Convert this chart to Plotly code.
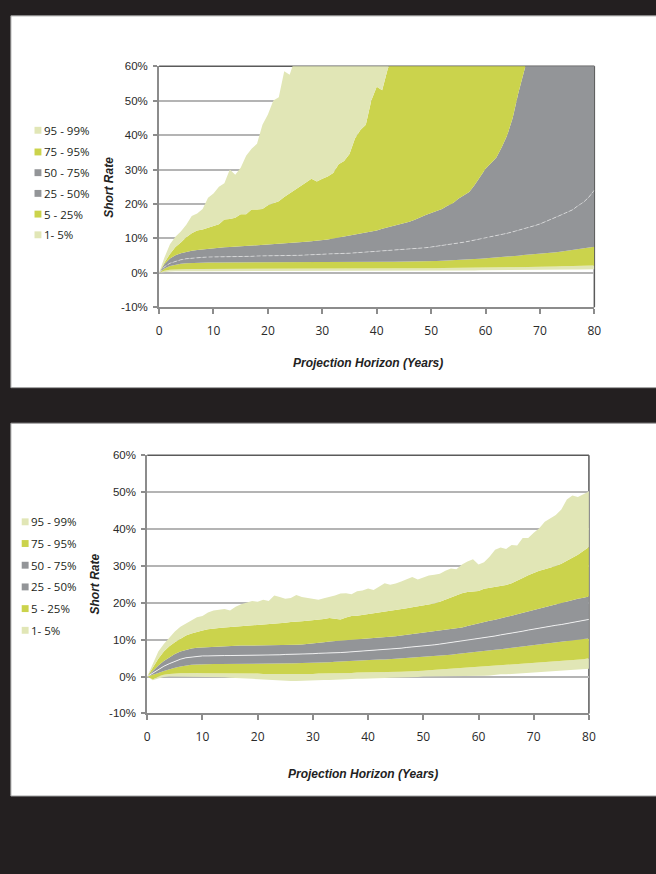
import plotly.graph_objects as go

W, H = 656, 874

years = list(range(81))

# ---------------- Upper chart: short-rate percentiles (%) ----------------
top_p1 = ([0, 0.3, 0.4, 0.45, 0.5, 0.5, 0.5, 0.5, 0.5, 0.5]
          + [0.5] * 30
          + [0.5, 0.5, 0.55, 0.55, 0.55, 0.55, 0.6, 0.6, 0.6, 0.6]
          + [0.6, 0.6, 0.65, 0.65, 0.65, 0.7, 0.7, 0.7, 0.7, 0.75]
          + [0.75, 0.75, 0.8, 0.8, 0.8, 0.8, 0.85, 0.85, 0.85, 0.85]
          + [0.9, 0.9, 0.9, 0.9, 0.95, 0.95, 0.95, 1.0, 1.0, 1.0]
          + [1.05])
top_p5 = ([0, 0.6, 0.9, 1.0, 1.1, 1.1, 1.15, 1.15, 1.15, 1.15]
          + [1.15] * 20
          + [1.15, 1.15, 1.15, 1.15, 1.2, 1.2, 1.2, 1.2, 1.2, 1.2]
          + [1.2, 1.2, 1.25, 1.25, 1.25, 1.3, 1.3, 1.3, 1.3, 1.35]
          + [1.35, 1.35, 1.4, 1.4, 1.4, 1.45, 1.45, 1.45, 1.5, 1.5]
          + [1.5, 1.55, 1.55, 1.6, 1.6, 1.65, 1.65, 1.7, 1.7, 1.75]
          + [1.75, 1.8, 1.8, 1.85, 1.9, 1.9, 1.95, 2.0, 2.0, 2.05]
          + [2.1])
top_p25 = ([0, 1.3, 2.0, 2.4, 2.65, 2.8, 2.9, 2.95, 3.0, 3.0]
           + [3.0, 3.0, 3.05, 3.05, 3.05, 3.05, 3.05, 3.1, 3.1, 3.1]
           + [3.1] * 10
           + [3.1, 3.1, 3.1, 3.1, 3.1, 3.15, 3.15, 3.15, 3.15, 3.15]
           + [3.2, 3.2, 3.2, 3.25, 3.25, 3.3, 3.3, 3.3, 3.35, 3.35]
           + [3.4, 3.45, 3.5, 3.55, 3.6, 3.7, 3.8, 3.9, 4.0, 4.1]
           + [4.2, 4.3, 4.4, 4.5, 4.7, 4.9, 5.0, 5.2, 5.3, 5.5]
           + [5.6, 5.8, 5.9, 6.0, 6.2, 6.4, 6.6, 6.8, 7.0, 7.3]
           + [7.6])
top_p50 = ([0, 1.8, 2.8, 3.4, 3.8, 4.1, 4.3, 4.4, 4.5, 4.6]
           + [4.6, 4.7, 4.7, 4.7, 4.8, 4.8, 4.8, 4.8, 4.9, 4.9]
           + [4.9, 5.0, 5.0, 5.0, 5.1, 5.1, 5.1, 5.2, 5.2, 5.3]
           + [5.4, 5.5, 5.5, 5.6, 5.7, 5.7, 5.8, 5.9, 6.0, 6.1]
           + [6.2, 6.3, 6.4, 6.5, 6.6, 6.7, 6.9, 7.0, 7.2, 7.3]
           + [7.5, 7.7, 7.9, 8.1, 8.3, 8.6, 8.9, 9.2, 9.5, 9.8]
           + [10.1, 10.4, 10.8, 11.1, 11.5, 11.9, 12.3, 12.7, 13.2, 13.7]
           + [14.2, 14.8, 15.5, 16.2, 16.9, 17.5, 18.3, 19.5, 20.5, 22.0]
           + [24.0])
top_p75 = ([0, 2.6, 4.2, 5.1, 5.7, 6.1, 6.4, 6.6, 6.8, 6.9]
           + [7.1, 7.2, 7.4, 7.5, 7.6, 7.7, 7.9, 8.0, 8.1, 8.2]
           + [8.2, 8.3, 8.3, 8.4, 8.5, 8.6, 8.8, 9.0, 9.2, 9.3]
           + [9.5, 9.7, 10.0, 10.3, 10.5, 10.7, 11.0, 11.3, 11.6, 12.0]
           + [12.3, 12.8, 13.2, 13.5, 13.8, 14.3, 14.8, 15.4, 16.2, 16.8]
           + [17.4, 18.0, 18.5, 19.5, 20.2, 21.5, 22.6, 23.5, 25.5, 28.0]
           + [30.2, 31.8, 33.5, 36.5, 40.0, 45.0, 52.0, 58.0, 64.0, 70.0]
           + [76, 82, 87, 93, 99, 104, 110, 117, 123, 129]
           + [136])
top_p95 = ([0, 3.0, 5.5, 7.5, 8.8, 10.3, 11.5, 12.3, 12.6, 13.1]
           + [13.6, 14.1, 15.5, 15.6, 16.0, 17.0, 17.0, 18.4, 18.4, 18.5]
           + [19.6, 20.1, 20.8, 22.0, 23.0, 24.0, 25.0, 26.2, 27.3, 26.5]
           + [27.3, 28.0, 29.0, 31.5, 32.5, 34.5, 39.0, 41.5, 43.0, 50.0]
           + [54.0, 53.0, 59.0, 64.0, 68, 72, 77, 81, 85, 89]
           + [93, 97, 101, 106, 110, 114, 118, 122, 126, 131]
           + [135, 139, 143, 147, 151, 156, 160, 164, 168, 172]
           + [176, 181, 185, 189, 193, 197, 201, 206, 210, 214]
           + [218])
top_p99 = ([0, 4.5, 8.3, 10.5, 12.0, 14.0, 16.5, 17.2, 18.5, 21.8]
           + [23.0, 25.0, 26.0, 30.0, 28.5, 30.5, 34.0, 36.0, 37.5, 43.0]
           + [46.0, 50.0, 51.0, 58.5, 57.5, 63, 67, 71, 75, 79]
           + [83, 87, 91, 95, 99, 103, 107, 111, 115, 119]
           + [123, 127, 131, 135, 139, 143, 147, 151, 155, 159]
           + [163, 167, 171, 175, 179, 183, 187, 191, 195, 199]
           + [203, 207, 211, 215, 219, 223, 227, 231, 235, 239]
           + [243, 247, 251, 255, 259, 263, 267, 271, 275, 279]
           + [283])

# ---------------- Lower chart: short-rate percentiles (%) ----------------
bot_p1 = ([0, -1.0, -0.5, -0.1, 0.0, 0.0, 0.0, 0.0, 0.0, 0.0]
          + [0.0, -0.1, -0.1, -0.2, -0.2, -0.3, -0.3, -0.4, -0.5, -0.6]
          + [-0.7, -0.9, -1.0, -1.0, -1.1, -1.1, -1.2, -1.2, -1.1, -1.1]
          + [-1.0, -1.0, -0.9, -0.9, -0.8, -0.8, -0.7, -0.7, -0.6, -0.6]
          + [-0.6, -0.5, -0.5, -0.4, -0.3, -0.3, -0.2, -0.2, -0.1, -0.1]
          + [0.0, 0.0, 0.0, 0.0, 0.0, 0.1, 0.1, 0.0, 0.0, 0.0]
          + [0.1, 0.2, 0.3, 0.5, 0.6, 0.6, 0.7, 0.8, 0.9, 1.0]
          + [1.1, 1.2, 1.3, 1.3, 1.4, 1.5, 1.6, 1.7, 1.8, 1.9]
          + [2.1])
bot_p5 = ([0, -0.8, 0.0, 0.5, 0.7, 0.9, 0.9, 0.9, 1.0, 1.0]
          + [0.9, 0.9, 1.0, 1.0, 0.9, 0.9, 0.9, 0.8, 0.8, 0.8]
          + [0.8, 0.7, 0.7, 0.7, 0.7, 0.6, 0.6, 0.5, 0.6, 0.7]
          + [0.7, 0.8, 0.8, 0.9, 0.9, 0.9, 1.0, 1.0, 1.1, 1.1]
          + [1.2, 1.2, 1.2, 1.2, 1.2, 1.3, 1.3, 1.4, 1.4, 1.5]
          + [1.6, 1.7, 1.8, 1.9, 2.0, 2.2, 2.3, 2.4, 2.5, 2.6]
          + [2.7, 2.8, 2.9, 3.0, 3.1, 3.2, 3.3, 3.4, 3.5, 3.6]
          + [3.6, 3.7, 3.8, 3.9, 4.0, 4.1, 4.2, 4.3, 4.5, 4.7]
          + [5.0])
bot_p25 = ([0, 0.4, 1.0, 1.5, 2.0, 2.4, 2.7, 3.0, 3.2, 3.3]
           + [3.4] * 10
           + [3.4, 3.5, 3.5, 3.5, 3.5, 3.6, 3.6, 3.6, 3.7, 3.7]
           + [3.8, 3.8, 3.9, 3.9, 4.0, 4.1, 4.1, 4.2, 4.3, 4.4]
           + [4.5, 4.5, 4.6, 4.6, 4.7, 4.8, 4.8, 4.9, 5.0, 5.1]
           + [5.2, 5.3, 5.4, 5.6, 5.7, 5.9, 6.1, 6.3, 6.5, 6.7]
           + [6.8, 7.0, 7.1, 7.3, 7.4, 7.6, 7.8, 8.0, 8.2, 8.4]
           + [8.5, 8.7, 8.9, 9.1, 9.3, 9.5, 9.7, 9.9, 10.0, 10.2]
           + [10.3])
bot_p50 = ([0, 1.0, 2.0, 2.8, 3.5, 4.2, 4.7, 5.1, 5.3, 5.5]
           + [5.6, 5.6, 5.7, 5.7, 5.7, 5.7, 5.7, 5.8, 5.8, 5.8]
           + [5.8, 5.9, 5.9, 5.9, 5.9, 6.0, 6.0, 6.0, 6.1, 6.1]
           + [6.2, 6.3, 6.3, 6.4, 6.5, 6.5, 6.6, 6.7, 6.8, 6.9]
           + [7.0, 7.2, 7.3, 7.4, 7.5, 7.6, 7.7, 7.9, 8.0, 8.2]
           + [8.3, 8.5, 8.6, 8.8, 9.0, 9.2, 9.4, 9.6, 9.8, 10.0]
           + [10.3, 10.5, 10.8, 11.0, 11.3, 11.5, 11.8, 12.0, 12.3, 12.6]
           + [12.9, 13.1, 13.4, 13.6, 13.9, 14.1, 14.4, 14.7, 14.9, 15.2]
           + [15.5])
bot_p75 = ([0, 1.5, 3.0, 4.2, 5.2, 6.1, 6.8, 7.3, 7.6, 7.8]
           + [7.9, 8.0, 8.1, 8.2, 8.2, 8.3, 8.3, 8.4, 8.4, 8.4]
           + [8.5, 8.5, 8.5, 8.5, 8.5, 8.6, 8.6, 8.6, 8.7, 8.8]
           + [8.9, 9.1, 9.3, 9.5, 9.6, 9.7, 9.8, 9.9, 10.0, 10.1]
           + [10.2, 10.4, 10.5, 10.6, 10.8, 10.9, 11.1, 11.3, 11.5, 11.7]
           + [11.9, 12.0, 12.2, 12.4, 12.6, 12.8, 13.0, 13.3, 13.7, 14.1]
           + [14.5, 14.8, 15.1, 15.4, 15.7, 16.1, 16.5, 16.9, 17.3, 17.7]
           + [18.0, 18.4, 18.8, 19.2, 19.6, 20.0, 20.4, 20.7, 21.1, 21.4]
           + [21.7])
bot_p95 = ([0, 2.5, 4.8, 6.8, 8.2, 9.3, 10.3, 11.1, 11.7, 12.2]
           + [12.5, 12.8, 13.1, 13.2, 13.3, 13.4, 13.5, 13.6, 13.8, 13.9]
           + [14.0, 14.1, 14.2, 14.3, 14.4, 14.6, 14.8, 15.0, 15.0, 15.1]
           + [15.2, 15.4, 15.6, 15.9, 15.7, 15.5, 16.0, 16.4, 16.5, 16.7]
           + [16.9, 17.2, 17.4, 17.6, 17.7, 17.9, 18.2, 18.5, 18.8, 19.0]
           + [19.3, 19.5, 19.8, 20.3, 20.9, 21.5, 22.0, 22.6, 22.9, 23.0]
           + [23.2, 23.8, 24.0, 24.2, 24.4, 24.8, 25.3, 25.9, 26.7, 27.5]
           + [28.2, 28.7, 29.1, 29.5, 30.0, 30.6, 31.3, 32.2, 33.0, 34.0]
           + [35.1])
bot_p99 = ([0, 3.5, 6.8, 8.8, 10.5, 12.2, 13.5, 14.4, 15.2, 16.1]
           + [16.4, 17.4, 17.9, 18.1, 18.3, 17.9, 18.9, 19.6, 20.0, 20.5]
           + [20.3, 20.8, 20.5, 22.0, 21.6, 21.1, 21.3, 22.1, 21.6, 21.3]
           + [21.2, 20.8, 21.2, 21.5, 22.0, 22.5, 22.6, 22.3, 23.1, 23.3]
           + [23.9, 23.5, 24.4, 25.3, 24.9, 25.2, 25.8, 26.5, 27.0, 26.3]
           + [26.8, 27.4, 27.6, 27.9, 28.7, 29.3, 29.1, 30.4, 31.2, 31.8]
           + [30.4, 31.0, 32.5, 34.4, 35.0, 34.6, 35.7, 35.5, 37.6, 37.6]
           + [39.0, 40.2, 42.0, 42.8, 43.8, 45.3, 48.0, 49.1, 48.7, 49.4]
           + [50.2])

legend_labels = ["95 - 99%", "75 - 95%", "50 - 75%", "25 - 50%", "5 - 25%", "1- 5%"]
x_ticks = [0, 10, 20, 30, 40, 50, 60, 70, 80]
y_ticks = [-10, 0, 10, 20, 30, 40, 50, 60]
y_tick_text = ["-10%", "0%", "10%", "20%", "30%", "40%", "50%", "60%"]

PALE = "#e1e6b6"
GREEN = "#cbd34c"
GREY = "#939598"
legend_colors = [PALE, GREEN, GREY, GREY, GREEN, PALE]
BG = "#231f20"


def fx(px):
    return px / W


def fy(py):
    return 1 - py / H


fig = go.Figure()


def add_fan(pcts, xa, ya, median_dash, median_color):
    p1, p5, p25, p50, p75, p95, p99 = pcts
    fills = [None, PALE, GREEN, GREY, GREY, GREEN, PALE]
    for vals, fc in zip([p1, p5, p25, p50, p75, p95, p99], fills):
        fig.add_trace(go.Scatter(
            x=years, y=vals, xaxis=xa, yaxis=ya, mode="lines",
            line=dict(width=0, color=fc or PALE),
            fill="tonexty" if fc else None, fillcolor=fc,
            hoverinfo="skip", showlegend=False))
    fig.add_trace(go.Scatter(
        x=years, y=p50, xaxis=xa, yaxis=ya, mode="lines",
        line=dict(width=1, color=median_color, dash=median_dash),
        hoverinfo="skip", showlegend=False))


add_fan([top_p1, top_p5, top_p25, top_p50, top_p75, top_p95, top_p99],
        "x", "y", "4px,2px", "rgba(255,255,255,0.5)")
add_fan([bot_p1, bot_p5, bot_p25, bot_p50, bot_p75, bot_p95, bot_p99],
        "x2", "y2", "solid", "rgba(255,255,255,0.8)")

xaxis_style = dict(
    range=[0, 80], tickvals=x_ticks, ticks="outside", ticklen=5,
    tickcolor="#8c8c8c", tickwidth=1.5, showline=True, linecolor="#8c8c8c",
    linewidth=2, showgrid=False, zeroline=False, ticklabelstandoff=6,
    tickfont=dict(family="Open Sans", size=12, color="#2a2a2a"))
yaxis_style = dict(
    range=[-10, 60], tickvals=y_ticks, ticktext=y_tick_text, ticks="outside",
    ticklen=4, tickcolor="#8c8c8c", tickwidth=1.5, showline=True,
    linecolor="#8c8c8c", linewidth=2, showgrid=True, gridcolor="#b4b4b4",
    gridwidth=1.5, zeroline=False, ticklabelstandoff=3,
    tickfont=dict(family="Liberation Sans", size=11.5, color="#2a2a2a"))

top_dom_x = [fx(158.5), fx(600.5)]
top_dom_y = [fy(305.5), fy(61)]
bot_dom_x = [fx(146.5), fx(595)]
bot_dom_y = [fy(717.3), fy(455.5)]

fig.update_layout(
    width=W, height=H, margin=dict(l=0, r=0, t=0, b=0),
    paper_bgcolor=BG, plot_bgcolor="white", showlegend=False,
    xaxis=dict(domain=top_dom_x, anchor="y", **xaxis_style),
    yaxis=dict(domain=top_dom_y, anchor="x", **yaxis_style),
    xaxis2=dict(domain=bot_dom_x, anchor="y2", **xaxis_style),
    yaxis2=dict(domain=bot_dom_y, anchor="x2", **yaxis_style),
)

shapes = []
# white panels behind each chart
for top_px, bot_px in [(10, 387), (423, 801)]:
    shapes.append(dict(type="rect", xref="paper", yref="paper",
                       x0=fx(8), x1=1.02, y0=fy(bot_px), y1=fy(top_px),
                       fillcolor="white", line=dict(color="#a0a0a0", width=1),
                       layer="below"))
# darker top and right frame of each plot area
for xr, yr in [("x domain", "y domain"), ("x2 domain", "y2 domain")]:
    shapes.append(dict(type="line", xref=xr, yref=yr, x0=0, x1=1, y0=1, y1=1,
                       line=dict(color="#5a5a5a", width=1.5), layer="below"))
    shapes.append(dict(type="line", xref=xr, yref=yr, x0=1, x1=1, y0=0, y1=1,
                       line=dict(color="#5a5a5a", width=1.5), layer="below"))

annotations = []
# legends
for (sq_x, txt_x, rows) in [
        (32, 40, [126, 148, 169, 190, 211, 232]),
        (19, 26, [523, 545, 567, 589, 611, 633])]:
    for lab, col, yy in zip(legend_labels, legend_colors, rows):
        shapes.append(dict(type="rect", xref="paper", yref="paper",
                           x0=fx(sq_x), x1=fx(sq_x + 7),
                           y0=fy(yy + 3.5), y1=fy(yy - 3.5),
                           fillcolor=col, line=dict(width=0)))
        annotations.append(dict(text=lab, xref="paper", yref="paper",
                                x=fx(txt_x), y=fy(yy), xanchor="left",
                                yanchor="middle", showarrow=False,
                                font=dict(family="Open Sans", size=11.5,
                                          color="#231f20")))

title_font = dict(family="Liberation Sans Narrow, Arial Narrow, Liberation Sans",
                  size=12, color="#222222")
for (ytx, yty, xtx, xty) in [(108, 184, 371, 362), (93, 586, 366, 779)]:
    annotations.append(dict(text="<b><i>Short Rate</i></b>", xref="paper",
                            yref="paper", x=fx(ytx), y=fy(yty), textangle=-90,
                            xanchor="center", yanchor="middle",
                            showarrow=False, font=title_font))
    annotations.append(dict(text="<b><i>Projection Horizon (Years)</i></b>",
                            xref="paper", yref="paper", x=fx(xtx), y=fy(xty),
                            xanchor="center", yanchor="middle",
                            showarrow=False, font=title_font))

fig.update_layout(shapes=shapes, annotations=annotations)

fig.write_html("out.html")
